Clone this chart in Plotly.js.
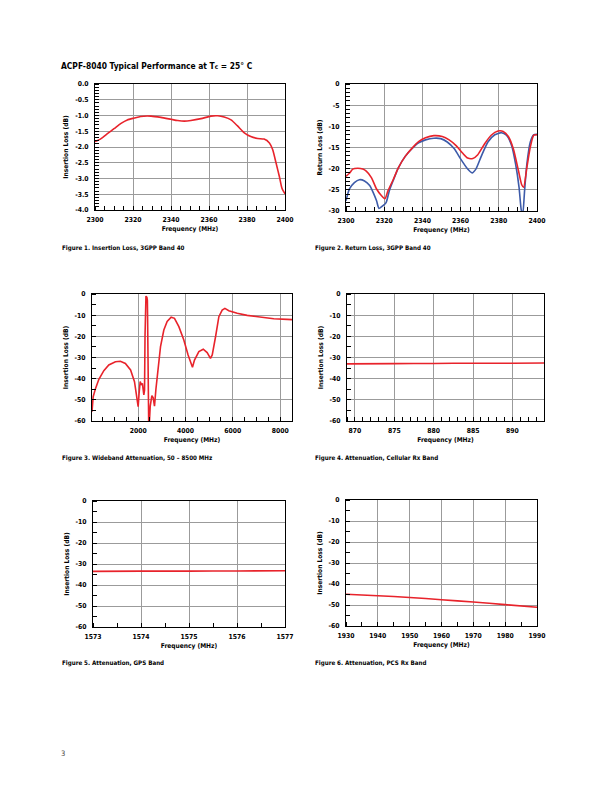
<!DOCTYPE html>
<html>
<head>
<meta charset="utf-8">
<script src="https://cdn.plot.ly/plotly-3.0.1.min.js"></script>
<style>
html, body { margin: 0; padding: 0; background: #fff; }
#page { width: 612px; height: 792px; }
</style>
</head>
<body>
<div id="page"></div>
<script>
// Figure 1 - insertion loss, band 40
var ilFreq = [2300, 2303, 2306.7, 2310, 2313.7, 2317, 2320.7, 2324, 2329.5, 2334.7, 2340, 2343.5, 2347, 2350.5, 2355.8, 2361, 2364.6, 2368, 2371.6, 2375, 2378.6, 2382, 2385.6, 2389, 2391.8, 2393.5, 2395.3, 2397, 2398.4, 2400];
var ilLoss = [-1.83, -1.74, -1.57, -1.42, -1.25, -1.14, -1.08, -1.03, -1.02, -1.06, -1.12, -1.16, -1.18, -1.16, -1.10, -1.02, -1.01, -1.05, -1.14, -1.33, -1.55, -1.67, -1.73, -1.75, -1.87, -2.08, -2.51, -2.93, -3.31, -3.49];

// Figure 2 - return loss (red = input, blue = output)
var rlFreqRed = [2300, 2301.8, 2303.5, 2306.2, 2308.8, 2310.6, 2313.3, 2316, 2318.6, 2320.4, 2322, 2324.8, 2327.4, 2331, 2334.5, 2338, 2341.6, 2346, 2350.4, 2354, 2357.5, 2361, 2363.7, 2366.4, 2369, 2372.6, 2376, 2379.6, 2382.3, 2385, 2387.6, 2390.3, 2392, 2393, 2394.7, 2396.5, 2398.3, 2400];
var rlRed = [-21.8, -21.1, -20.1, -19.9, -20.1, -20.6, -22.1, -24.8, -26.4, -27.1, -25.2, -22.5, -19.8, -17.1, -15.2, -13.6, -12.7, -12.2, -12.4, -13.2, -14.5, -16.3, -17.5, -17.6, -16.7, -14.1, -12.1, -11.1, -11.2, -12.4, -15.3, -20.5, -23.8, -24.4, -19.7, -14.9, -12.1, -12.0];
var rlFreqBlue = [2300, 2301.8, 2304.4, 2307, 2309.7, 2312.4, 2314.2, 2316, 2317.3, 2319.2, 2321, 2322.7, 2324.8, 2327.4, 2331, 2334.5, 2338, 2341.6, 2346, 2349.6, 2353, 2356.7, 2360, 2363.7, 2366, 2368, 2370.8, 2374.3, 2377.9, 2381.4, 2384, 2386.7, 2388.8, 2390.6, 2391.7, 2392.5, 2393.5, 2394.7, 2396.5, 2398.2, 2400];
var rlBlue = [-27.6, -24.8, -23.3, -22.6, -22.9, -24.0, -25.6, -27.6, -29.4, -28.8, -28.0, -25.2, -22.7, -19.8, -17.1, -15.3, -13.9, -13.2, -12.8, -12.9, -13.7, -15.3, -17.7, -20.1, -21.0, -20.1, -17.1, -13.7, -12.0, -11.5, -12.1, -14.5, -18.9, -24.4, -29.6, -31, -25.2, -18.9, -13.7, -12.0, -11.9];

// Figure 3 - wideband attenuation
var wbFreq = [50, 100, 200, 340, 550, 760, 1040, 1250, 1460, 1680, 1845, 1960, 2000, 2040, 2085, 2140, 2180, 2240, 2270, 2290, 2300, 2330, 2370, 2390, 2400, 2420, 2450, 2510, 2580, 2635, 2690, 2750, 2830, 2945, 3085, 3225, 3395, 3535, 3720, 3930, 4110, 4240, 4295, 4380, 4565, 4750, 4915, 5055, 5130, 5270, 5410, 5550, 5665, 5830, 6185, 6605, 7170, 7730, 8295, 8500];
var wbLoss = [-55.6, -48.5, -44.6, -40.3, -36.2, -33.5, -32.0, -31.8, -32.8, -35.9, -41.4, -50.1, -53.2, -46.9, -41.4, -43.0, -42.2, -47.7, -45.4, -20, -2, -1, -1.6, -3, -12, -62, -66, -53, -48, -49, -53, -45, -36, -24.9, -17, -13, -11, -11.5, -15.4, -21.7, -28.8, -33.5, -34.6, -31.2, -27.2, -26.1, -27.7, -30.4, -28.8, -20.2, -10.7, -7.6, -6.8, -7.9, -9.1, -10.1, -11.0, -11.7, -12.0, -12.1];

// Figure 4 - cellular rx band
var cellFreq = [869, 875, 880, 885, 890, 894];
var cellLoss = [-33.0, -32.9, -32.8, -32.7, -32.7, -32.6];

// Figure 5 - GPS band
var gpsFreq = [1573, 1574, 1575, 1576, 1577];
var gpsLoss = [-33.5, -33.4, -33.4, -33.3, -33.2];

// Figure 6 - PCS rx band
var pcsFreq = [1930, 1940, 1950, 1960, 1970, 1980, 1990];
var pcsLoss = [-44.9, -45.6, -46.4, -47.5, -48.6, -49.8, -51.1];

// tick labels
var xTicks12 = [2300, 2320, 2340, 2360, 2380, 2400];
var yTicks1 = [0, -0.5, -1, -1.5, -2, -2.5, -3, -3.5, -4];
var yText1 = ['0.0', '-0.5', '-1.0', '-1.5', '-2.0', '-2.5', '-3.0', '-3.5', '-4.0'];
var yTicks2 = [0, -5, -10, -15, -20, -25, -30];
var yText2 = ['0', '-5', '-10', '-15', '-20', '-25', '-30'];
var xTicks3 = [2000, 4000, 6000, 8000];
var xTicks4 = [870, 875, 880, 885, 890];
var xTicks5 = [1573, 1574, 1575, 1576, 1577];
var xTicks6 = [1930, 1940, 1950, 1960, 1970, 1980, 1990];
var yTicks60 = [0, -10, -20, -30, -40, -50, -60];
var yText60 = ['0', '-10', '-20', '-30', '-40', '-50', '-60'];

var W = 612, H = 792;
function fx(px) { return px / W; }
function fy(py) { return 1 - py / H; }

var FONT = '"Liberation Sans Narrow", "DejaVu Sans Condensed", sans-serif';
var RED = '#e8232b', BLUE = '#3d5ba9';

function tickFont() { return {family: FONT, size: 6.8, color: '#000', weight: 'bold'}; }

function xAxis(n, l, r, range, vals, minor0, minorDt) {
  return {
    domain: [fx(l), fx(r)], range: range, anchor: 'y' + n,
    tickmode: 'array', tickvals: vals, ticktext: vals.map(String),
    ticks: '', showgrid: true, gridcolor: '#9b9b9b', gridwidth: 1,
    showline: true, linecolor: '#000', linewidth: 1, mirror: true, zeroline: false,
    tickfont: tickFont(), ticklabelstandoff: 3,
    minor: {tickmode: 'linear', tick0: minor0, dtick: minorDt, ticks: 'inside', ticklen: 4, tickcolor: '#000', tickwidth: 1, showgrid: false},
    title: {text: 'Frequency (MHz)', font: {family: FONT, size: 6.6, color: '#000', weight: 'bold'}, standoff: 3},
    automargin: false, fixedrange: true
  };
}

function yAxis(n, t, b, range, vals, txt, minorDt, label) {
  return {
    domain: [fy(b), fy(t)], range: range, anchor: 'x' + n,
    tickmode: 'array', tickvals: vals, ticktext: txt,
    ticks: '', showgrid: true, gridcolor: '#9b9b9b', gridwidth: 1,
    showline: true, linecolor: '#000', linewidth: 1, mirror: true, zeroline: false,
    tickfont: tickFont(), ticklabelstandoff: 4,
    minor: {tickmode: 'linear', tick0: 0, dtick: minorDt, ticks: 'inside', ticklen: 4, tickcolor: '#000', tickwidth: 1, showgrid: false},
    title: {text: label, font: {family: FONT, size: 6.6, color: '#000', weight: 'bold'}, standoff: 5},
    automargin: false, fixedrange: true
  };
}

function line(x, y, n, color) {
  return {x: x, y: y, xaxis: 'x' + n, yaxis: 'y' + n, type: 'scatter', mode: 'lines',
    line: {color: color, width: 1.6, shape: 'spline', smoothing: 0.6}, showlegend: false, hoverinfo: 'skip'};
}

var data = [
  line(ilFreq, ilLoss, '', RED),
  line(rlFreqBlue, rlBlue, 2, BLUE),
  line(rlFreqRed, rlRed, 2, RED),
  line(wbFreq, wbLoss, 3, RED),
  line(cellFreq, cellLoss, 4, RED),
  line(gpsFreq, gpsLoss, 5, RED),
  line(pcsFreq, pcsLoss, 6, RED)
];
data[3].line.shape = 'linear';

function caption(text, px, py, size) {
  return {text: text, xref: 'paper', yref: 'paper', x: fx(px), y: fy(py), xanchor: 'left', yanchor: 'middle',
    showarrow: false, font: {family: FONT, size: size || 6.2, color: '#000', weight: 'bold'}};
}

var layout = {
  width: W, height: H,
  margin: {l: 0, r: 0, t: 0, b: 0},
  paper_bgcolor: '#fff', plot_bgcolor: '#fff',
  showlegend: false,

  xaxis: xAxis('', 95, 285, [2300, 2400], xTicks12, 2300, 5),
  yaxis: yAxis('', 84, 210, [-4, 0], yTicks1, yText1, 0.1, 'Insertion Loss (dB)'),
  xaxis2: xAxis(2, 346, 537, [2300, 2400], xTicks12, 2300, 5),
  yaxis2: yAxis(2, 84, 211, [-30, 0], yTicks2, yText2, 1, 'Return Loss (dB)'),
  xaxis3: xAxis(3, 92, 292, [50, 8500], xTicks3, 0, 500),
  yaxis3: yAxis(3, 294, 421, [-60, 0], yTicks60, yText60, 5, 'Insertion Loss (dB)'),
  xaxis4: xAxis(4, 347, 544, [869, 894], xTicks4, 869, 1),
  yaxis4: yAxis(4, 294, 421, [-60, 0], yTicks60, yText60, 5, 'Insertion Loss (dB)'),
  xaxis5: xAxis(5, 93, 285, [1573, 1577], xTicks5, 1573, 0.5),
  yaxis5: yAxis(5, 501, 627, [-60, 0], yTicks60, yText60, 5, 'Insertion Loss (dB)'),
  xaxis6: xAxis(6, 346, 537, [1930, 1990], xTicks6, 1930, 5),
  yaxis6: yAxis(6, 500, 626, [-60, 0], yTicks60, yText60, 5, 'Insertion Loss (dB)'),

  annotations: [
    caption('ACPF-8040 Typical Performance at T<span style="font-size:6.5px">c</span> = 25° C', 59, 66, 8.4),
    caption('Figure 1. Insertion Loss, 3GPP Band 40', 60, 248),
    caption('Figure 2. Return Loss, 3GPP Band 40', 313, 248),
    caption('Figure 3. Wideband Attenuation, 50 – 8500 MHz', 60, 458),
    caption('Figure 4. Attenuation, Cellular Rx Band', 313, 458),
    caption('Figure 5. Attenuation, GPS Band', 60, 663),
    caption('Figure 6. Attenuation, PCS Rx Band', 313, 663),
    {text: '3', xref: 'paper', yref: 'paper', x: fx(59), y: fy(753), xanchor: 'left', yanchor: 'middle',
      showarrow: false, font: {family: FONT, size: 7.5, color: '#444'}}
  ]
};

var options = {displayModeBar: false, staticPlot: true};

Plotly.newPlot('page', data, layout, options);
</script>
</body>
</html>
